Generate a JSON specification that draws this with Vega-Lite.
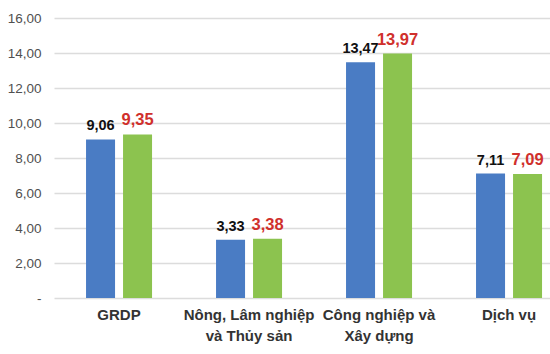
{
  "$schema": "https://vega.github.io/schema/vega-lite/v6.json",
  "width": 496,
  "height": 280,
  "autosize": {"type": "none"},
  "padding": {"left": 54, "top": 18, "right": 0, "bottom": 56},
  "background": "white",
  "config": {
    "view": {"stroke": null},
    "locale": {"number": {"decimal": ",", "thousands": ".", "grouping": [3], "currency": ["", ""]}},
    "font": "Liberation Sans"
  },
  "data": {
    "values": [
      {"category": "GRDP", "series": "A", "value": 9.06},
      {"category": "GRDP", "series": "B", "value": 9.35},
      {"category": "Nông, Lâm nghiệp và Thủy sản", "series": "A", "value": 3.33},
      {"category": "Nông, Lâm nghiệp và Thủy sản", "series": "B", "value": 3.38},
      {"category": "Công nghiệp và Xây dựng", "series": "A", "value": 13.47},
      {"category": "Công nghiệp và Xây dựng", "series": "B", "value": 13.97},
      {"category": "Dịch vụ", "series": "A", "value": 7.11},
      {"category": "Dịch vụ", "series": "B", "value": 7.09}
    ]
  },
  "encoding": {
    "x": {
      "field": "category",
      "type": "nominal",
      "sort": null,
      "scale": {"paddingInner": 0.4, "paddingOuter": 0.1077, "align": 0.93},
      "axis": {
        "title": null,
        "domain": false,
        "ticks": false,
        "labelAngle": 0,
        "labelFont": "Liberation Sans",
        "labelFontSize": 15,
        "labelFontWeight": "bold",
        "labelColor": "#333333",
        "labelPadding": 9,
        "labelLineHeight": 21,
        "labelBaseline": "top",
        "labelLimit": 200,
        "labelExpr": "datum.value == 'Nông, Lâm nghiệp và Thủy sản' ? ['Nông, Lâm nghiệp', 'và Thủy sản'] : datum.value == 'Công nghiệp và Xây dựng' ? ['Công nghiệp và', 'Xây dựng'] : datum.label"
      }
    },
    "xOffset": {
      "field": "series",
      "type": "nominal",
      "scale": {"paddingInner": 0.216, "paddingOuter": 0.162}
    },
    "y": {
      "field": "value",
      "type": "quantitative",
      "scale": {"domain": [0, 16], "nice": false},
      "axis": {
        "title": null,
        "values": [0, 2, 4, 6, 8, 10, 12, 14, 16],
        "format": ".2f",
        "labelExpr": "datum.value == 0 ? '-\u00a0\u00a0\u00a0' : datum.label",
        "domain": false,
        "ticks": false,
        "labelPadding": 13,
        "labelFont": "Liberation Sans",
        "labelFontSize": 13.5,
        "labelColor": "#505050",
        "gridColor": "#dcdcdc",
        "gridWidth": 1.5
      }
    }
  },
  "layer": [
    {
      "mark": {"type": "bar"},
      "encoding": {
        "color": {
          "field": "series",
          "type": "nominal",
          "scale": {"domain": ["A", "B"], "range": ["#4a7cc4", "#8cc34f"]},
          "legend": null
        }
      }
    },
    {
      "transform": [{"filter": "datum.series == 'A'"}],
      "mark": {"type": "text", "baseline": "bottom", "dy": -6, "fontSize": 14.5, "fontWeight": "bold", "color": "#111111", "font": "Liberation Sans"},
      "encoding": {"text": {"field": "value", "type": "quantitative", "format": ".2f"}}
    },
    {
      "transform": [{"filter": "datum.series == 'B'"}],
      "mark": {"type": "text", "baseline": "bottom", "dy": -6, "fontSize": 16.5, "fontWeight": "bold", "color": "#d0302c", "font": "Liberation Sans"},
      "encoding": {"text": {"field": "value", "type": "quantitative", "format": ".2f"}}
    }
  ]
}
